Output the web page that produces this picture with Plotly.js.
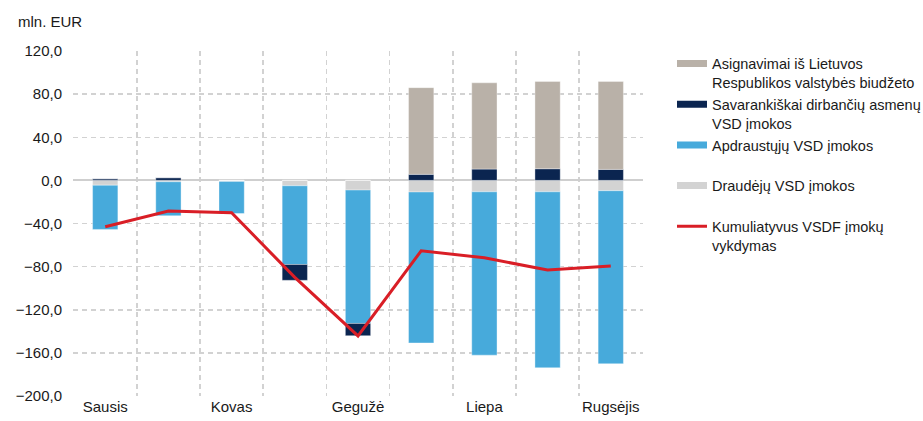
<!DOCTYPE html>
<html>
<head>
<meta charset="utf-8">
<script src="https://cdn.plot.ly/plotly-3.0.1.min.js"></script>
<style>
  html, body { margin: 0; padding: 0; background: #ffffff; }
  #chart { width: 923px; height: 421px; }
</style>
</head>
<body>
<div id="chart"></div>
<script>
// Months of the year (January–September)
const months = ['Sausis', 'Vasaris', 'Kovas', 'Balandis', 'Gegužė', 'Birželis', 'Liepa', 'Rugpjūtis', 'Rugsėjis'];
// Only every second month is labelled on the axis
const monthLabels = ['Sausis', '', 'Kovas', '', 'Gegužė', '', 'Liepa', '', 'Rugsėjis'];

// Components of the cumulative SODRA fund execution, mln. EUR
const draudejuVsd = [-4.5, -1.3, -1.0, -5.0, -9.0, -10.8, -10.6, -10.6, -9.6];
const apdraustujuVsd = [-41.0, -31.5, -29.7, -73.0, -123.7, -140.0, -151.5, -163.2, -160.5];
const savarankiskaiVsd = [1.5, 2.5, 0.0, -14.7, -11.4, 5.6, 10.5, 10.8, 10.2];
const asignavimai = [0, 0, 0, 0, 0, 80.4, 80.0, 81.0, 81.6];
const kumuliatyvus = [-43.0, -28.5, -30.0, -90.0, -144.3, -65.3, -71.8, -83.2, -79.5];

const yTicks = [-200, -160, -120, -80, -40, 0, 40, 80, 120];

const names = {
  asign: 'Asignavimai iš Lietuvos<br>Respublikos valstybės biudžeto',
  sav: 'Savarankiškai dirbančių asmenų<br>VSD įmokos',
  apdr: 'Apdraustųjų VSD įmokos<br>\u00a0',
  draud: 'Draudėjų VSD įmokos<br>\u00a0',
  kum: 'Kumuliatyvus VSDF įmokų<br>vykdymas'
};

const colors = {
  asign: '#b9b1a8',
  sav: '#0b2550',
  apdr: '#47aadb',
  draud: '#d3d3d3',
  kum: '#d91e26'
};

const barLine = { color: 'rgba(255,255,255,0.6)', width: 0.6 };

function barTrace(y, key) {
  return {
    type: 'bar', x: months, y: y, name: names[key],
    marker: { color: colors[key], line: barLine },
    showlegend: false, hoverinfo: 'x+y'
  };
}

// Legend swatches drawn as wide strokes
function swatch(key, rank, width) {
  return {
    type: 'scatter', mode: 'lines', x: [months[0]], y: [null],
    name: names[key], legendrank: rank,
    line: { color: colors[key], width: width },
    hoverinfo: 'skip'
  };
}

const traces = [
  barTrace(draudejuVsd, 'draud'),
  barTrace(apdraustujuVsd, 'apdr'),
  barTrace(savarankiskaiVsd, 'sav'),
  barTrace(asignavimai, 'asign'),
  {
    type: 'scatter', mode: 'lines', x: months, y: kumuliatyvus,
    name: names.kum, showlegend: false,
    line: { color: colors.kum, width: 3 }
  },
  swatch('asign', 1, 7),
  swatch('sav', 2, 7),
  swatch('apdr', 3, 7),
  swatch('draud', 4, 7),
  swatch('kum', 5, 3)
];

const gridColor = '#d2d2d2';
const font = { family: 'Liberation Sans, Arial, sans-serif', size: 15, color: '#1a1a1a' };

const layout = {
  width: 923, height: 421,
  margin: { l: 73, r: 280, t: 51, b: 25, pad: 0, autoexpand: false },
  paper_bgcolor: '#ffffff', plot_bgcolor: '#ffffff',
  font: font,
  separators: ', ',
  barmode: 'relative',
  bargap: 0.6,
  title: {
    text: 'mln. EUR', font: { family: font.family, size: 15, color: '#1a1a1a' },
    x: 18 / 923, xanchor: 'left', xref: 'container',
    y: 1 - 22 / 421, yanchor: 'middle', yref: 'container'
  },
  xaxis: {
    type: 'category',
    tickmode: 'array', tickvals: months, ticktext: monthLabels,
    tickson: 'boundaries', ticks: '', tickangle: 0,
    showgrid: true, gridcolor: gridColor, gridwidth: 1.5, griddash: '5px,4px',
    showline: false, zeroline: false, automargin: false,
    tickfont: { size: 15, color: '#1a1a1a' },
    range: [-0.51, 8.51], fixedrange: true
  },
  yaxis: {
    range: [-200, 120], tickmode: 'array', tickvals: yTicks,
    tickformat: '.1f',
    showgrid: true, gridcolor: gridColor, gridwidth: 1.5, griddash: '5px,4px',
    zeroline: true, zerolinecolor: '#cfcfcf', zerolinewidth: 2,
    showline: false, ticks: '', ticklabelstandoff: 10, automargin: false,
    tickfont: { size: 15, color: '#1a1a1a' }, fixedrange: true
  },
  legend: {
    x: (672 - 73) / 570, xanchor: 'left',
    y: 1.01, yanchor: 'top',
    valign: 'top', bgcolor: 'rgba(0,0,0,0)',
    font: { family: font.family, size: 14.5, color: '#1a1a1a' },
    tracegroupgap: 0
  },
  showlegend: true
};

Plotly.newPlot('chart', traces, layout, { displayModeBar: false, staticPlot: true });
</script>
</body>
</html>
